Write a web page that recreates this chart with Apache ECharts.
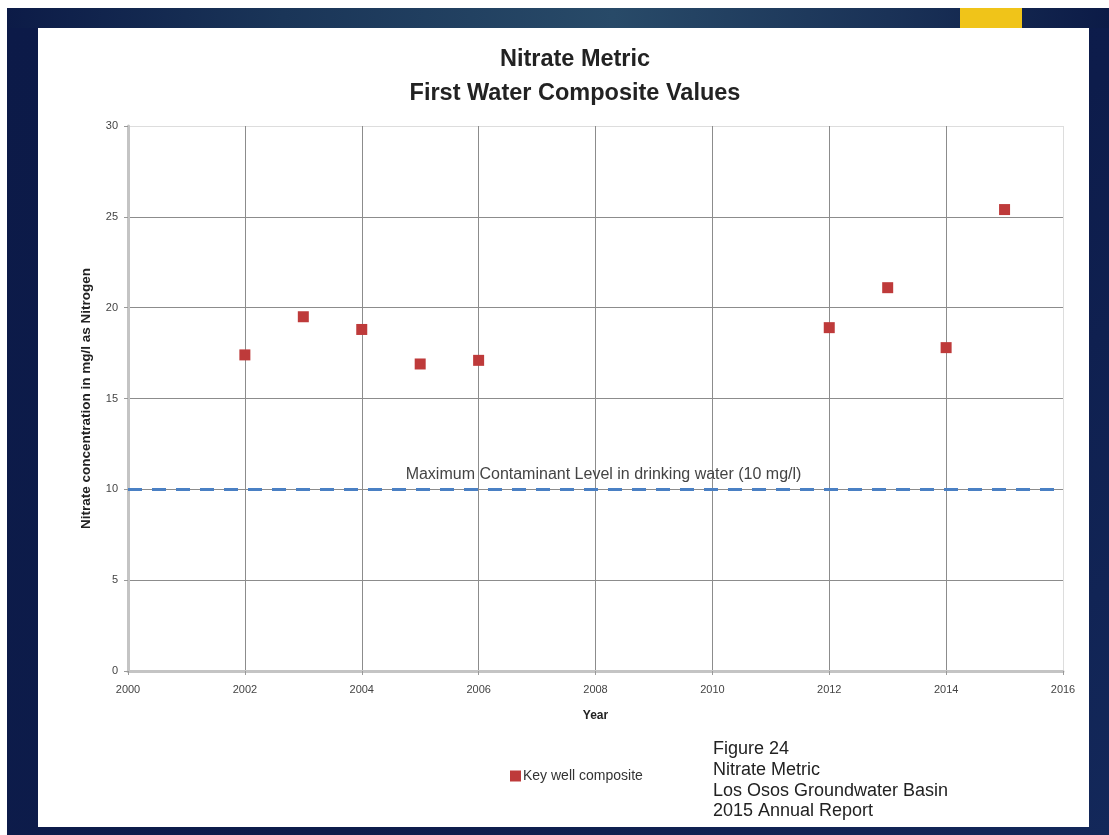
<!DOCTYPE html>
<html>
<head>
<meta charset="utf-8">
<script src="https://cdn.jsdelivr.net/npm/echarts@6/dist/echarts.min.js"></script>
<style>
html, body { margin: 0; padding: 0; background: #fff; }
#chart {
  position: absolute; left: 0; top: 0;
  width: 1109px; height: 835px;
}
#bg {
  position: absolute; left: 7px; top: 8px; width: 1102px; height: 827px;
  background: linear-gradient(90deg, #0c1b47 0%, #1a3558 25%, #284a68 55%, #1a3257 80%, #0c1b47 100%);
}
#bg2 {
  position: absolute; left: 7px; top: 28px; width: 1102px; height: 807px;
  background: linear-gradient(135deg, #0c1a48 0%, #0d1c4b 60%, #13285a 100%);
}
</style>
</head>
<body>
<div id="bg"></div>
<div id="bg2"></div>
<div id="chart"></div>
<script>
// Nitrate metric, first water composite values
var years = [2002, 2003, 2004, 2005, 2006, 2012, 2013, 2014, 2015];
var nitrate = [17.4, 19.5, 18.8, 16.9, 17.1, 18.9, 21.1, 17.8, 25.4];
var mclValue = 10;
var mclLabel = 'Maximum Contaminant Level in drinking water (10 mg/l)';
var figureLines = ['Figure 24', 'Nitrate Metric', 'Los Osos Groundwater Basin', '2015 Annual Report'];

var myChart = echarts.init(document.getElementById('chart'));

var points = years.map(function (y, i) { return [y, nitrate[i]]; });
var font = '"Liberation Sans", Arial';

var option = {
  animation: false,
  graphic: [
    { type: 'rect', z: -10, shape: { x: 38, y: 28, width: 1051, height: 799 }, style: { fill: '#ffffff' } },
    { type: 'rect', z: -10, shape: { x: 960, y: 8, width: 62, height: 20 }, style: { fill: '#f0c419' } },
    {
      type: 'text', left: 713, top: 739,
      style: { text: figureLines.join('\n'), font: '18px "Liberation Sans", Arial', fill: '#222', lineHeight: 20.7 }
    }
  ],
  title: {
    text: 'Nitrate Metric\nFirst Water Composite Values',
    left: 570, top: 38, textAlign: 'center',
    textStyle: { fontFamily: font, fontWeight: 'bold', fontSize: 23.5, lineHeight: 34, color: '#222' }
  },
  legend: {
    left: 505, top: 764,
    itemWidth: 11, itemHeight: 11, itemGap: 4,
    textStyle: { fontSize: 14, color: '#333', fontFamily: font, padding: [0, 0, 0, -3] },
    data: [{ name: 'Key well composite', icon: 'rect' }]
  },
  grid: { left: 128, right: 46, top: 126, bottom: 164 },
  xAxis: {
    type: 'value', min: 2000, max: 2016, interval: 2,
    name: 'Year', nameLocation: 'middle', nameGap: 39,
    nameTextStyle: { fontWeight: 'bold', fontSize: 12, color: '#222', fontFamily: font },
    axisLine: { lineStyle: { color: '#c4c4c4', width: 3 } },
    axisTick: { show: true, length: 4, lineStyle: { color: '#999' } },
    axisLabel: { color: '#444', fontSize: 11, margin: 13, fontFamily: font, formatter: function (v) { return String(v); } },
    splitLine: { lineStyle: { color: ['#c4c4c4', '#8c8c8c', '#8c8c8c', '#8c8c8c', '#8c8c8c', '#8c8c8c', '#8c8c8c', '#8c8c8c', '#ddd'], width: 1 } }
  },
  yAxis: {
    type: 'value', min: 0, max: 30, interval: 5,
    name: 'Nitrate concentration in mg/l as Nitrogen', nameLocation: 'middle', nameGap: 35,
    nameTextStyle: { fontWeight: 'bold', fontSize: 13.5, color: '#222', fontFamily: font },
    axisLine: { show: true, lineStyle: { color: '#c4c4c4', width: 3 } },
    axisTick: { show: true, length: 4, lineStyle: { color: '#999' } },
    axisLabel: { color: '#444', fontSize: 11, margin: 10, fontFamily: font },
    splitLine: { lineStyle: { color: ['#c4c4c4', '#8c8c8c', '#8c8c8c', '#8c8c8c', '#8c8c8c', '#8c8c8c', '#ddd'], width: 1 } }
  },
  series: [{
    name: 'Key well composite',
    type: 'scatter',
    symbol: 'rect', symbolSize: 11,
    itemStyle: { color: '#be3a3a', opacity: 1 },
    data: points,
    markLine: {
      silent: true, symbol: 'none',
      lineStyle: { color: '#4a80c4', type: [14, 10], width: 3 },
      label: {
        show: true, position: 'insideMiddleTop', formatter: mclLabel,
        color: '#444', fontSize: 16, distance: 7, fontFamily: font,
        padding: [0, 0, 0, 16]
      },
      data: [{ yAxis: mclValue }]
    }
  }]
};

myChart.setOption(option);
</script>
</body>
</html>
